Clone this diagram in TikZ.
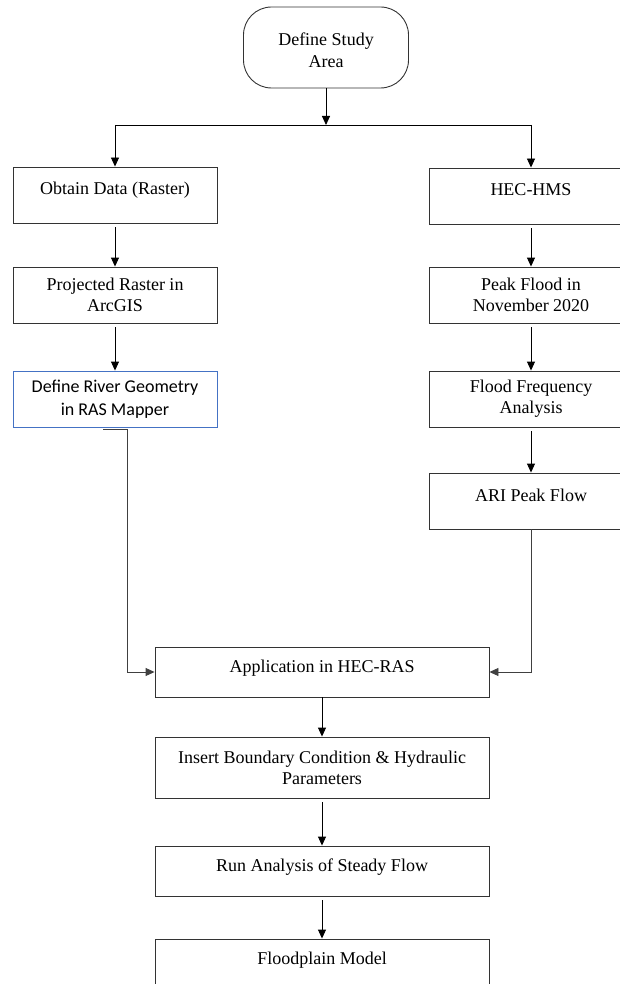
\documentclass[tikz,border=0pt]{standalone}
\usepackage{fontspec}
\setmainfont{Liberation Serif}
\newfontfamily\calibri{Carlito}
\usetikzlibrary{calc,arrows.meta}
\definecolor{geoblue}{HTML}{4472C4}

\tikzset{
  box/.style={draw=black!80, line width=0.9pt, minimum height=56pt, align=center, inner sep=2pt, font=\fontsize{18}{21}\selectfont},
  lbox/.style={box, minimum width=204pt},
  cbox/.style={box, minimum width=334pt},
  oneline/.style={text height=12pt, text depth=12pt},
  flow/.style={-{Triangle[length=9pt,width=8pt]}, line width=0.9pt, shorten <=4pt},
  link/.style={line width=0.9pt},
}

\begin{document}
\begin{tikzpicture}[x=1pt,y=-1pt]
  \useasboundingbox (0,0) rectangle (620,984);
  \clip (0,0) rectangle (620,984);
  % start
  \node[box, rounded corners=28pt, minimum width=165pt, minimum height=81pt,
        font=\fontsize{18}{22}\selectfont, text height=56pt, text depth=15pt] (study) at (326,47.5) {Define Study\\Area};
  % left branch
  \node[lbox, oneline] (obtain) at (115,195) {Obtain Data (Raster)};
  \node[lbox] (proj) at (115,295) {Projected Raster in\\ArcGIS};
  \node[lbox, draw=geoblue, font=\calibri\fontsize{18}{23}\selectfont] (geo) at (115,399) {Define River Geometry\\in RAS Mapper};
  % right branch
  \node[lbox, oneline] (hms) at (531,196) {HEC-HMS};
  \node[lbox] (peak) at (531,295) {Peak Flood in\\November 2020};
  \node[lbox] (freq) at (531,399) {Flood Frequency\\Analysis};
  \node[lbox, oneline] (ari) at (531,501) {ARI Peak Flow};
  % main column
  \node[cbox, oneline, minimum height=50pt] (app) at (322,672) {Application in HEC-RAS};
  \node[cbox, minimum height=61pt] (insert) at (322,767.5) {Insert Boundary Condition \& Hydraulic\\Parameters};
  \node[cbox, oneline, minimum height=50pt] (run) at (322,871) {Run Analysis of Steady Flow};
  \node[cbox, oneline, minimum height=50pt] (model) at (322,964) {Floodplain Model};

  % split below start
  \coordinate (split) at (326,125);
  \draw[flow, shorten <=0pt] (study.south) -- (split);
  \draw[link] (obtain.north |- split) -- (hms.north |- split);
  \draw[flow, shorten <=0pt] (obtain.north |- split) -- (obtain.north);
  \draw[flow, shorten <=0pt] (hms.north |- split) -- (hms.north);

  % branches
  \draw[flow] (obtain) -- (proj);
  \draw[flow] (proj) -- (geo);
  \draw[flow] (hms) -- (peak);
  \draw[flow] (peak) -- (freq);
  \draw[flow] (freq) -- (ari);

  % join into HEC-RAS
  \coordinate (geoout) at ([xshift=-12pt,yshift=-2pt]geo.south);
  \draw[flow, shorten <=0pt, draw=black!75] (geoout) -- ++(24,0) |- (app.west);
  \draw[flow, shorten <=0pt, draw=black!75] (ari.south) |- (app.east);

  % main column
  \draw[flow, shorten <=0pt] (app) -- (insert);
  \draw[flow] (insert) -- (run);
  \draw[flow] (run) -- (model);
\end{tikzpicture}
\end{document}
